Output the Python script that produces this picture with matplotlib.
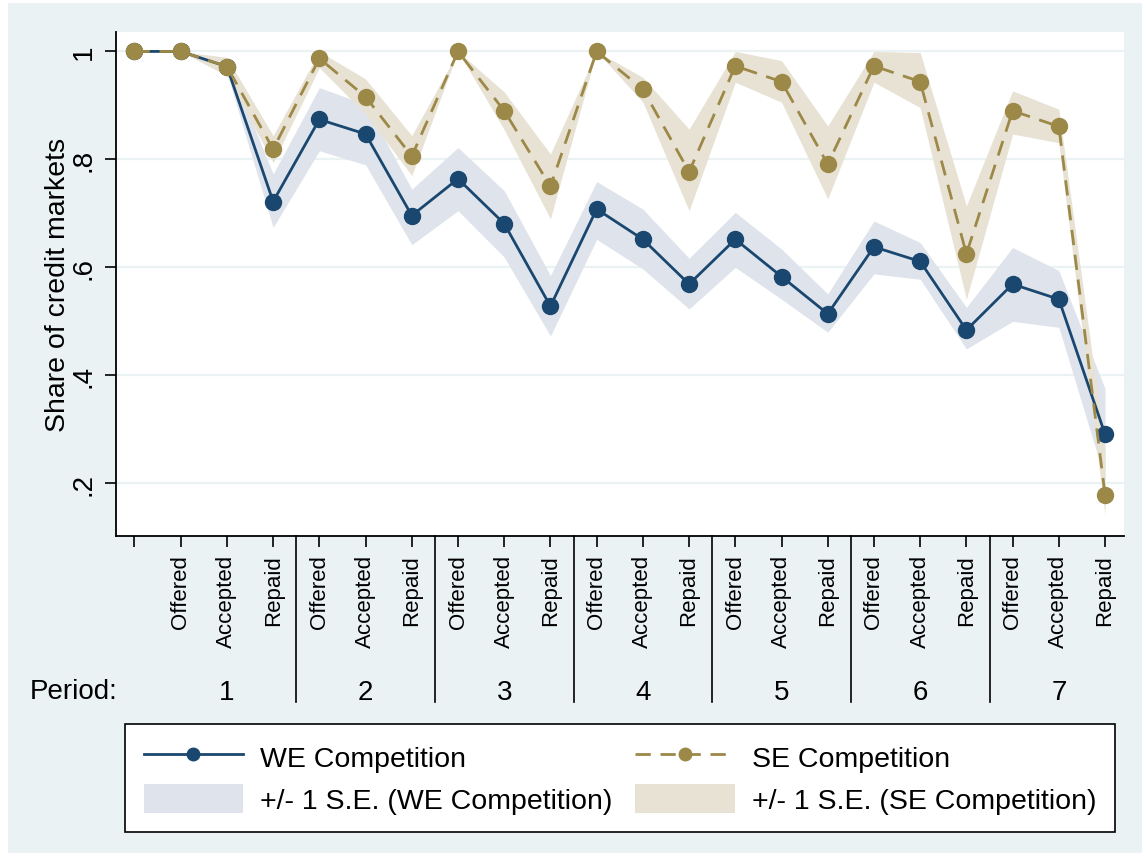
import matplotlib.pyplot as plt
import matplotlib.transforms as mtransforms
from matplotlib.patches import Rectangle, Patch
from matplotlib.lines import Line2D
import numpy as np

plt.rcParams['font.family'] = ['Liberation Sans', 'DejaVu Sans']

# data
periods = [1, 2, 3, 4, 5, 6, 7]
stages = ['Offered', 'Accepted', 'Repaid']
tick_labels = [''] + stages * len(periods)

we = [1.0, 1.0, 0.972, 0.722, 0.874, 0.847, 0.696, 0.764, 0.681, 0.528, 0.708,
      0.652, 0.569, 0.652, 0.583, 0.514, 0.638, 0.611, 0.484, 0.569, 0.541, 0.291]
we_lo = [1.0, 1.0, 0.960, 0.674, 0.816, 0.790, 0.642, 0.705, 0.619, 0.473, 0.652,
         0.597, 0.523, 0.600, 0.541, 0.480, 0.588, 0.578, 0.449, 0.500, 0.489, 0.207]
we_hi = [1.0, 1.0, 0.985, 0.773, 0.933, 0.902, 0.745, 0.822, 0.742, 0.585, 0.759,
         0.708, 0.617, 0.702, 0.634, 0.551, 0.686, 0.646, 0.526, 0.637, 0.594, 0.375]

se = [1.0, 1.0, 0.972, 0.819, 0.987, 0.916, 0.806, 1.0, 0.890, 0.750, 1.0,
      0.930, 0.777, 0.973, 0.944, 0.791, 0.973, 0.944, 0.625, 0.890, 0.861, 0.179]
se_lo = [1.0, 1.0, 0.955, 0.794, 0.970, 0.884, 0.770, 1.0, 0.855, 0.690, 1.0,
         0.906, 0.705, 0.943, 0.906, 0.727, 0.943, 0.896, 0.541, 0.847, 0.831, 0.140]
se_hi = [1.0, 1.0, 0.989, 0.844, 1.0, 0.949, 0.844, 1.0, 0.925, 0.810, 1.0,
         0.952, 0.856, 1.0, 0.983, 0.862, 1.0, 0.998, 0.714, 0.927, 0.893, 0.263]

navy = '#1a476f'
gold = '#9c8847'
navy_band = '#dfe4ec'
gold_band = '#e8e2d4'
bg = '#eaf2f3'

W, H = 1142, 854
fig = plt.figure(figsize=(W / 100, H / 100), dpi=100)
fig.patch.set_facecolor('white')
fig.patches.append(Rectangle((8 / W, 0), 1 - 8 / W, 1 - 4 / H, transform=fig.transFigure,
                             facecolor=bg, edgecolor='none', zorder=-10))

ax = fig.add_axes([116 / W, 1 - 537 / H, (1124 - 116) / W, (537 - 33) / H])
ax.set_facecolor('white')

x = np.arange(len(we))
ax.fill_between(x, we_lo, we_hi, color=navy_band, lw=0, zorder=2)
ax.fill_between(x, se_lo, se_hi, color=gold_band, lw=0, zorder=3)
ax.plot(x, we, color=navy, lw=2.0, marker='o', ms=11.5, zorder=4)
ax.plot(x, se, color=gold, lw=2.0, marker='o', ms=11.5, dashes=(5.5, 3.5), zorder=5)

ax.set_xlim(-0.4, 21.41)
ax.set_ylim(0.1025, 1.036)
ax.tick_params(axis='both', direction='out', length=8, width=1.2, color='black')
ax.tick_params(axis='x', pad=5, labelsize=16)
ax.tick_params(axis='y', pad=6)

ax.set_yticks([0.2, 0.4, 0.6, 0.8, 1.0])
ax.set_yticklabels(['.2', '.4', '.6', '.8', '1'], rotation=90, va='center', fontsize=20)
ax.yaxis.grid(True, color=bg, lw=1.6, zorder=1)
ax.set_axisbelow(True)

ax.set_xticks(x)
ax.set_xticklabels(tick_labels, rotation=90, va='top', fontsize=16)

for s in ['top', 'right']:
    ax.spines[s].set_visible(False)
for s in ['left', 'bottom']:
    ax.spines[s].set_linewidth(1.3)

ax.set_ylabel('Share of credit markets', fontsize=20.5, labelpad=0)

# period dividers and numbers below the axis
trans = mtransforms.blended_transform_factory(ax.transData, ax.transAxes)
for k in range(1, len(periods)):
    xd = 3 * k + 0.5
    ax.plot([xd, xd], [0, -0.329], color='black', lw=1.2, transform=trans, clip_on=False)
for k, p in enumerate(periods):
    ax.text(3 * k + 2, -0.31, str(p), transform=trans, ha='center', va='center', fontsize=20)
fig.text(118 / W, 1 - 692 / H, 'Period:', ha='right', va='center', fontsize=20)

handles = [
    Line2D([], [], color=navy, lw=2.0, marker='o', ms=9),
    Patch(facecolor=navy_band, edgecolor='none'),
    Line2D([], [], color=gold, lw=2.0, marker='o', ms=9, dashes=(5.5, 3.5)),
    Patch(facecolor=gold_band, edgecolor='none'),
]
labels = ['WE Competition', '+/- 1 S.E. (WE Competition)',
          'SE Competition', '+/- 1 S.E. (SE Competition)']
leg = fig.legend(handles, labels, ncol=2, mode='expand', loc='center',
                 bbox_to_anchor=(125 / W, 1 - 835 / H, (1115 - 125) / W, (835 - 723) / H),
                 fontsize=20.5, frameon=True, fancybox=False, framealpha=1,
                 edgecolor='black', facecolor='white', handlelength=3.5,
                 handleheight=1.2, handletextpad=0.6, labelspacing=0.4,
                 borderpad=0.65, borderaxespad=0, columnspacing=1.0)
leg.get_frame().set_linewidth(1.2)

fig.savefig('out.png', dpi=100)
